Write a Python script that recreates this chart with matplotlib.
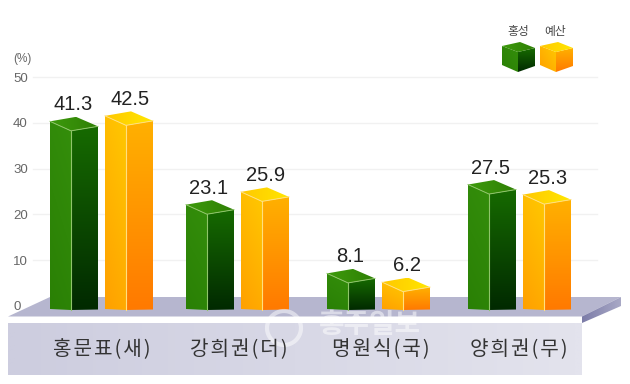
import numpy as np
import matplotlib
matplotlib.use('Agg')
import matplotlib.pyplot as plt
from matplotlib.colors import LinearSegmentedColormap
from matplotlib.patches import Polygon, Circle

plt.rcParams['font.family'] = ['Liberation Sans', 'Noto Sans CJK KR']

# values
candidates = ['홍문표(새)', '강희권(더)', '명원식(국)', '양희권(무)']
hongseong = [41.3, 23.1, 8.1, 27.5]
yesan = [42.5, 25.9, 6.2, 25.3]
series_names = ['홍성', '예산']
y_ticks = [0, 10, 20, 30, 40, 50]

W, H = 630, 384
PX = 4.58  # pixels per percent
ZERO = 306  # pixel row of value 0


def vy(p):
    # pixel row -> value on the y axis
    return (ZERO - p) / PX


def gradient(ax, pts, c1, c2, angle=90):
    # fill a polygon with a linear gradient, pts are (x, value)
    pts = np.array(pts, dtype=float)
    x0, x1 = pts[:, 0].min(), pts[:, 0].max()
    y0, y1 = pts[:, 1].min(), pts[:, 1].max()
    u, v = np.meshgrid(np.linspace(0, 1, 40), np.linspace(0, 1, 40))
    a = np.radians(angle)
    g = u * np.cos(a) + v * np.sin(a)
    g = (g - g.min()) / (g.max() - g.min())
    cm = LinearSegmentedColormap.from_list('g', [c1, c2])
    im = ax.imshow(g, extent=(x0, x1, y0, y1), origin='lower', cmap=cm,
                   aspect='auto', zorder=3, interpolation='bilinear')
    clip = Polygon(pts, transform=ax.transData, fc='none', ec='none')
    ax.add_patch(clip)
    im.set_clip_path(clip)


def bar3d(ax, x, val, c):
    # top back corner of the box sits on the value
    b_l, b_f, b_r = vy(309), vy(310), vy(309.5)
    left, front, right = x, x + 21, x + 48
    back = x + 26
    t_l = val - 4.5 / PX
    t_f = val - 14 / PX
    t_r = val - 9.5 / PX
    gradient(ax, [(left, b_l), (front, b_f), (front, t_f), (left, t_l)], c[1], c[0], 70)
    gradient(ax, [(front, b_f), (right, b_r), (right, t_r), (front, t_f)], c[3], c[2], 90)
    gradient(ax, [(left, t_l), (back, val), (right, t_r), (front, t_f)], c[4], c[5], 0)
    ax.plot([left, front, right], [t_l, t_f, t_r], color=c[6], lw=0.7, zorder=4)
    ax.plot([front, front], [t_f, b_f], color=c[6], lw=0.8, zorder=4)


green = ('#348e0b', '#2a8005', '#166a00', '#012a00', '#3d9a0c', '#2f8005', '#8fc56a')
orange = ('#ffc800', '#ffa000', '#ffb000', '#ff7a00', '#ffc800', '#ffe600', '#ffe080')

fig = plt.figure(figsize=(W / 100, H / 100), dpi=100)
ax = fig.add_axes([0, 0, 1, 1])
ax.set_xlim(0, W)
ax.set_ylim(vy(H), vy(0))
ax.axis('off')

# gridlines and y labels
for t in y_ticks:
    if t > 0:
        ax.plot([33, 597], [t, t], color='#f1f1f1', lw=1, zorder=1)
    ax.text(13, t - 1.5 / PX, str(t), fontsize=9.5, color='#666666', va='center', ha='left', zorder=6)
ax.text(13, vy(59), '(%)', fontsize=8.5, color='#666666', va='center', ha='left')

# floor of the chart
ax.add_patch(Polygon([(8, vy(316.5)), (50, vy(297)), (621, vy(297)), (582, vy(316.5))],
                     fc='#b6b6cf', ec='none', zorder=2))
gradient(ax, [(582, vy(316.5)), (621, vy(297)), (621, vy(306)), (582, vy(323))],
         '#7c7ca8', '#a9a9c6', 0)
gradient(ax, [(8, vy(323)), (582, vy(323)), (582, vy(375)), (8, vy(375))],
         '#cdcddf', '#e3e3ed', 0)

# bars
lefts = [50, 186, 327, 468]
label_x = [102, 239, 381, 519]
gap = 55
for i in range(len(candidates)):
    bar3d(ax, lefts[i], hongseong[i], green)
    bar3d(ax, lefts[i] + gap, yesan[i], orange)
    ax.text(lefts[i] + 23, hongseong[i] + 2.5 / PX, f'{hongseong[i]}', fontsize=14.5,
            color='#222222', ha='center', va='bottom', zorder=6)
    ax.text(lefts[i] + gap + 25, yesan[i] + 2.5 / PX, f'{yesan[i]}', fontsize=14.5,
            color='#222222', ha='center', va='bottom', zorder=6)
    # hair spaces: the reference has wider letter spacing
    ax.text(label_x[i], vy(350), '\u200a'.join(candidates[i]), fontsize=14.5, color='#333333',
            ha='center', va='center', zorder=6, family=['Noto Sans CJK KR', 'DejaVu Sans'])

# watermark
ax.text(370, vy(325), '홍주일보', fontsize=20, color='white', alpha=0.5, ha='center',
        va='center', zorder=5, family=['Noto Sans CJK KR'], fontweight='bold')
ax.add_patch(Polygon(np.column_stack([284 + 17 * np.cos(np.linspace(0, 6.3, 50)),
                                      vy(328 + 17 * np.sin(np.linspace(0, 6.3, 50)))]),
                     fc='none', ec='white', lw=3, alpha=0.5, zorder=5))

# legend cubes
for cx, name, c, off in zip([502, 540], series_names, [green, orange], [16, 15]):
    ax.text(cx + off, vy(32), name, fontsize=8.5, color='#444444', ha='center', va='center',
            family=['Noto Sans CJK KR'], zorder=6)
    gradient(ax, [(cx, vy(46)), (cx + 16, vy(52)), (cx + 16, vy(72)), (cx, vy(65))], c[1], c[0], 45)
    gradient(ax, [(cx + 16, vy(52)), (cx + 33, vy(48)), (cx + 33, vy(66)), (cx + 16, vy(72))], c[3], c[2], 90)
    gradient(ax, [(cx, vy(46)), (cx + 18, vy(42)), (cx + 33, vy(48)), (cx + 16, vy(52))], c[4], c[5], 0)

fig.savefig('out.png', dpi=100)
